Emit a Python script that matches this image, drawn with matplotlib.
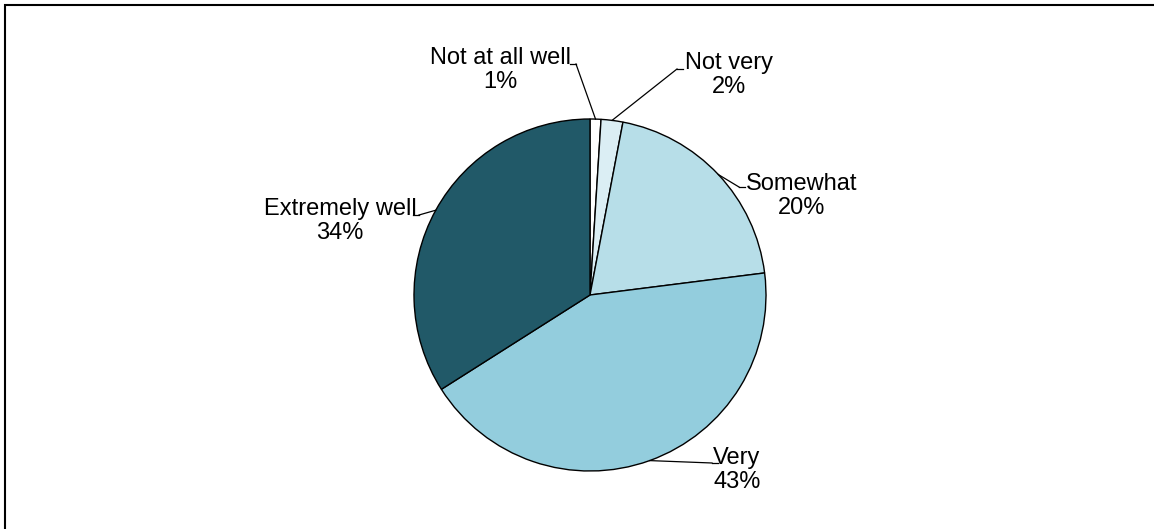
import matplotlib.pyplot as plt
import numpy as np

plt.rcParams['font.family'] = ['Liberation Sans', 'DejaVu Sans']

# data
labels = ["Not at all well", "Not very", "Somewhat", "Very", "Extremely well"]
values = [1, 2, 20, 43, 34]
colors = ["#ffffff", "#dbeef4", "#b7dee8", "#93cddd", "#215968"]

W, H = 1154, 529
CX, CY, R = 590, H - 295, 176

# label text centres and elbow points (pixels from top-left)
text_pos = [(500, 70), (729, 75), (802, 196), (737, 470), (340, 221)]
elbows = [(576, 64), (677, 69), (739, 187), (712, 463), (419, 215)]

fig = plt.figure(figsize=(W / 100, H / 100), dpi=100)
ax = fig.add_axes([0, 0, 1, 1])

wedges, _ = ax.pie(values, colors=colors, startangle=90, counterclock=False,
                   center=(CX, CY), radius=R,
                   wedgeprops=dict(edgecolor="black", linewidth=1.0))
ax.set_xlim(0, W)
ax.set_ylim(0, H)
ax.set_aspect("equal")
ax.axis("off")

for w, lab, v, tp, el in zip(wedges, labels, values, text_pos, elbows):
    mid = np.deg2rad((w.theta1 + w.theta2) / 2)
    ex = CX + R * np.cos(mid)
    ey = CY + R * np.sin(mid)
    ax.plot([ex, el[0]], [ey, H - el[1]], color="black", lw=0.9)
    # short horizontal tick next to the text
    side = 1 if el[0] < tp[0] else -1
    ax.plot([el[0], el[0] + side * 6], [H - el[1], H - el[1]], color="black", lw=0.9)
    ax.text(tp[0], H - tp[1], f"{lab}\n{v}%", ha="center", va="center",
            fontsize=17, linespacing=1.1)

# frame: only top and left edges visible
ax.plot([4.5, 4.5, W + 5], [-5, H - 5, H - 5], color="black", lw=1.5,
        solid_joinstyle="miter", clip_on=False)

fig.savefig("out.png", dpi=100)
